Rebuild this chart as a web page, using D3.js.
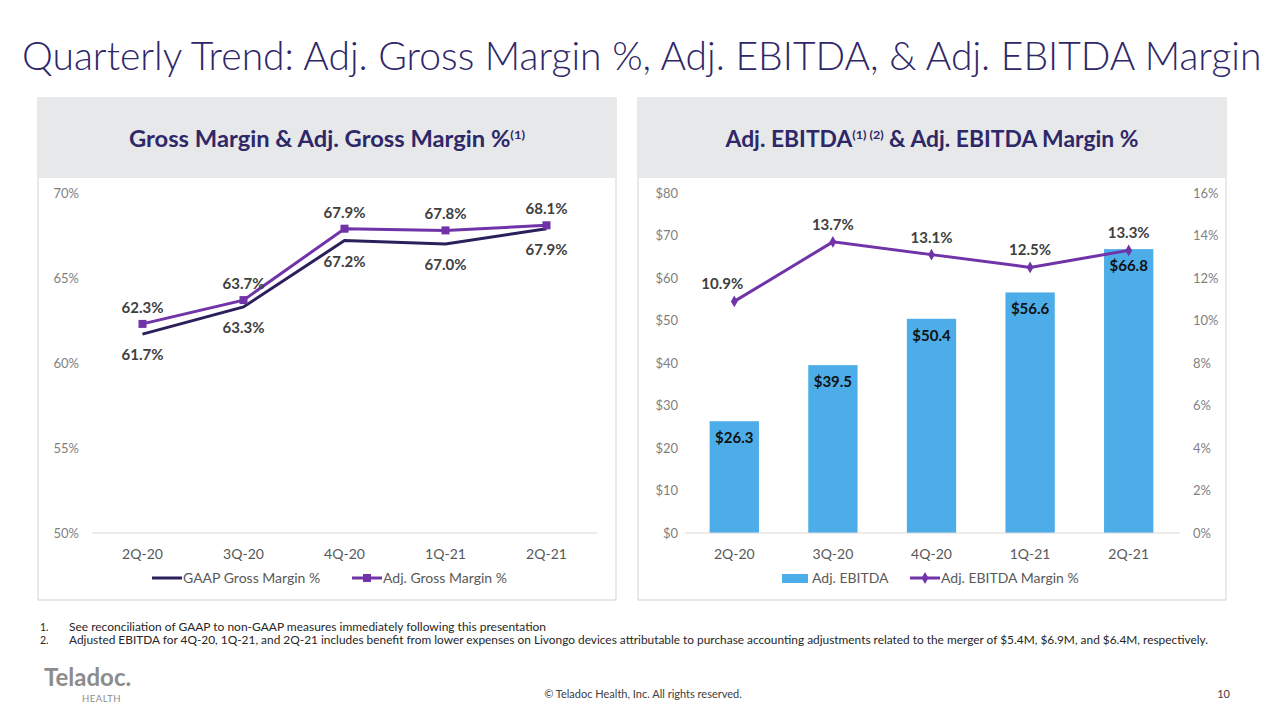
<!DOCTYPE html>
<html><head><meta charset="utf-8">
<script src="https://cdn.jsdelivr.net/npm/d3@7"></script>
<style>
body{margin:0;background:#fff;}
svg{display:block;font-family:Lato,"Open Sans",sans-serif;}
</style></head>
<body>
<svg id="c" width="1280" height="712"></svg>
<script>
const quarters = ["2Q-20","3Q-20","4Q-20","1Q-21","2Q-21"];
const gaapGross = [61.7,63.3,67.2,67.0,67.9];
const adjGross = [62.3,63.7,67.9,67.8,68.1];
const adjEbitda = [26.3,39.5,50.4,56.6,66.8];
const ebitdaMargin = [10.9,13.7,13.1,12.5,13.3];
const grossTicks = [50,55,60,65,70];
const ebitdaTicks = [0,10,20,30,40,50,60,70,80];
const marginTicks = [0,2,4,6,8,10,12,14,16];
const footnotes = [
 "See reconciliation of GAAP to non-GAAP measures immediately following this presentation",
 "Adjusted EBITDA for 4Q-20, 1Q-21, and 2Q-21 includes benefit from lower expenses on Livongo devices attributable to purchase accounting adjustments related to the merger of $5.4M, $6.9M, and $6.4M, respectively."
];

const svg = d3.select("#c");
const navy = "#2B1F5C", purple = "#7033A8", blue = "#4DADE8", axisGray = "#7F7F7F", labelDark = "#404040";

// Title (font size fitted to the reference width)
const title = svg.append("text").attr("x",22).attr("y",70).attr("font-size",40).attr("font-weight",300)
  .attr("fill","#2E2768")
  .text("Quarterly Trend: Adj. Gross Margin %, Adj. EBITDA, & Adj. EBITDA Margin");
{
  const w = title.node().getComputedTextLength();
  title.attr("font-size", Math.min(42, 40*1240/w));
}

// Panels
function panel(x0,x1,titleParts,len){
  svg.append("rect").attr("x",x0).attr("y",98).attr("width",x1-x0).attr("height",502)
    .attr("fill","#fff").attr("stroke","#DADADA").attr("stroke-width",1.2);
  svg.append("rect").attr("x",x0).attr("y",98).attr("width",x1-x0).attr("height",80).attr("fill","#E7E8EA");
  const t = svg.append("text").attr("x",(x0+x1)/2).attr("y",147).attr("text-anchor","middle")
    .attr("font-size",22).attr("font-weight",700).attr("fill","#2E2768")
    .attr("textLength",len).attr("lengthAdjust","spacingAndGlyphs");
  titleParts.forEach(p=>{
    const ts = t.append("tspan").text(p.t);
    if(p.sup){ts.attr("font-size",12).attr("dy",-8);}
    if(p.down){ts.attr("dy",8);}
  });
}
panel(38,616,[{t:"Gross Margin & Adj. Gross Margin %"},{t:"(1)",sup:true}],396);
panel(638,1226,[{t:"Adj. EBITDA"},{t:"(1) (2)",sup:true},{t:" & Adj. EBITDA Margin %",down:true}],413);

// ---------- Left chart ----------
const xL = d3.scaleBand().domain(quarters).range([92,597]);
const yL = d3.scaleLinear().domain([50,70]).range([533,193]);
const gL = svg.append("g");
gL.append("line").attr("x1",92).attr("x2",597).attr("y1",yL(50)).attr("y2",yL(50)).attr("stroke","#D9D9D9").attr("stroke-width",1.2);
const axL = gL.append("g").attr("transform","translate(82,0)").call(d3.axisLeft(yL).tickValues(grossTicks).tickFormat(d=>d+"%").tickSize(0));
axL.select(".domain").remove();
axL.selectAll("text").attr("fill",axisGray).attr("font-size",13).attr("font-family","Lato,sans-serif");
const axLb = gL.append("g").attr("transform","translate(0,545)").call(d3.axisBottom(xL).tickSize(0));
axLb.select(".domain").remove();
axLb.selectAll("text").attr("fill","#595959").attr("font-size",14).attr("font-family","Lato,sans-serif").attr("dy","0.75em");

const lineL = (arr)=> d3.line().x((d,i)=>xL(quarters[i])+xL.bandwidth()/2).y(d=>yL(d))(arr);
gL.append("path").attr("d",lineL(gaapGross)).attr("fill","none").attr("stroke",navy).attr("stroke-width",3);
gL.append("path").attr("d",lineL(adjGross)).attr("fill","none").attr("stroke",purple).attr("stroke-width",3);
gL.selectAll(".sq").data(adjGross).join("rect")
  .attr("x",(d,i)=>xL(quarters[i])+xL.bandwidth()/2-4).attr("y",d=>yL(d)-4)
  .attr("width",8).attr("height",8).attr("fill",purple);
gL.selectAll(".la").data(adjGross).join("text")
  .attr("x",(d,i)=>xL(quarters[i])+xL.bandwidth()/2).attr("y",d=>yL(d)-11)
  .attr("text-anchor","middle").attr("font-size",15).attr("font-weight",700).attr("fill",labelDark)
  .text(d=>d.toFixed(1)+"%");
gL.selectAll(".lg").data(gaapGross).join("text")
  .attr("x",(d,i)=>xL(quarters[i])+xL.bandwidth()/2).attr("y",d=>yL(d)+26)
  .attr("text-anchor","middle").attr("font-size",15).attr("font-weight",700).attr("fill",labelDark)
  .text(d=>d.toFixed(1)+"%");

// Left legend
const lgL = svg.append("g").attr("font-size",14).attr("fill","#595959");
lgL.append("line").attr("x1",152).attr("x2",182).attr("y1",578).attr("y2",578).attr("stroke",navy).attr("stroke-width",3);
lgL.append("text").attr("x",183).attr("y",583).text("GAAP Gross Margin %");
lgL.append("line").attr("x1",352).attr("x2",382).attr("y1",578).attr("y2",578).attr("stroke",purple).attr("stroke-width",3);
lgL.append("rect").attr("x",363).attr("y",574).attr("width",8).attr("height",8).attr("fill",purple);
lgL.append("text").attr("x",383).attr("y",583).text("Adj. Gross Margin %");

// ---------- Right chart ----------
const xR = d3.scaleBand().domain(quarters).range([685,1178]).paddingInner(0.5).paddingOuter(0.25);
const yR = d3.scaleLinear().domain([0,80]).range([533,193]);
const yR2 = d3.scaleLinear().domain([0,16]).range([533,193]);
const gR = svg.append("g");
const axR = gR.append("g").attr("transform","translate(681,0)").call(d3.axisLeft(yR).tickValues(ebitdaTicks).tickFormat(d=>"$"+d).tickSize(0));
axR.select(".domain").remove();
axR.selectAll("text").attr("fill",axisGray).attr("font-size",13).attr("font-family","Lato,sans-serif");
const axR2 = gR.append("g").attr("transform","translate(1190,0)").call(d3.axisRight(yR2).tickValues(marginTicks).tickFormat(d=>d+"%").tickSize(0));
axR2.select(".domain").remove();
axR2.selectAll("text").attr("fill",axisGray).attr("font-size",13).attr("font-family","Lato,sans-serif");

gR.selectAll(".bar").data(adjEbitda).join("rect")
  .attr("x",(d,i)=>xR(quarters[i])).attr("width",xR.bandwidth())
  .attr("y",d=>yR(d)).attr("height",d=>yR(0)-yR(d)).attr("fill",blue);
gR.append("line").attr("x1",685).attr("x2",1180).attr("y1",yR(0)).attr("y2",yR(0)).attr("stroke","#D9D9D9").attr("stroke-width",1.2);
const axRb = gR.append("g").attr("transform","translate(0,545)").call(d3.axisBottom(xR).tickSize(0));
axRb.select(".domain").remove();
axRb.selectAll("text").attr("fill","#595959").attr("font-size",14).attr("font-family","Lato,sans-serif").attr("dy","0.75em");

gR.selectAll(".bl").data(adjEbitda).join("text")
  .attr("x",(d,i)=>xR(quarters[i])+xR.bandwidth()/2).attr("y",d=>yR(d)+22)
  .attr("text-anchor","middle").attr("font-size",15).attr("font-weight",700).attr("fill","#111")
  .text(d=>"$"+d.toFixed(1));

const lineR = d3.line().x((d,i)=>xR(quarters[i])+xR.bandwidth()/2).y(d=>yR2(d));
gR.append("path").attr("d",lineR(ebitdaMargin)).attr("fill","none").attr("stroke",purple).attr("stroke-width",3);
const diamond = d3.symbol().type(d3.symbolDiamond).size(40);
gR.selectAll(".dm").data(ebitdaMargin).join("path")
  .attr("d",diamond).attr("transform",(d,i)=>`translate(${xR(quarters[i])+xR.bandwidth()/2},${yR2(d)})`).attr("fill",purple);
gR.selectAll(".ml").data(ebitdaMargin).join("text")
  .attr("x",(d,i)=>xR(quarters[i])+xR.bandwidth()/2 - (i===0?12:0)).attr("y",d=>yR2(d)-12)
  .attr("text-anchor","middle").attr("font-size",15).attr("font-weight",700).attr("fill",labelDark)
  .text(d=>d.toFixed(1)+"%");

// Right legend
const lgR = svg.append("g").attr("font-size",14).attr("fill","#595959");
lgR.append("rect").attr("x",782).attr("y",574).attr("width",26).attr("height",9).attr("fill",blue);
lgR.append("text").attr("x",812).attr("y",583).text("Adj. EBITDA");
lgR.append("line").attr("x1",910).attr("x2",940).attr("y1",578).attr("y2",578).attr("stroke",purple).attr("stroke-width",3);
lgR.append("path").attr("d",diamond).attr("transform","translate(925,578)").attr("fill",purple);
lgR.append("text").attr("x",941).attr("y",583).text("Adj. EBITDA Margin %");

// Footnotes
const fnLens = [477,1139];
const fn = svg.append("g").attr("font-size",10.5).attr("fill","#262626");
footnotes.forEach((t,i)=>{
  fn.append("text").attr("x",40).attr("y",631+i*13).text((i+1)+".");
  fn.append("text").attr("x",69).attr("y",631+i*13).attr("textLength",fnLens[i]).attr("lengthAdjust","spacingAndGlyphs").text(t);
});

// Footer
svg.append("text").attr("x",44).attr("y",686).attr("font-size",24).attr("font-weight",700).attr("fill","#8C8C8C").text("Teladoc.");
svg.append("text").attr("x",82).attr("y",702).attr("font-size",9.5).attr("fill","#8C8C8C").attr("letter-spacing",0.5).text("HEALTH");
svg.append("text").attr("x",643).attr("y",698).attr("text-anchor","middle").attr("font-size",11).attr("fill","#404040").text("© Teladoc Health, Inc. All rights reserved.");
svg.append("text").attr("x",1230).attr("y",698).attr("text-anchor","end").attr("font-size",11).attr("fill","#404040").text("10");
</script>
</body></html>
